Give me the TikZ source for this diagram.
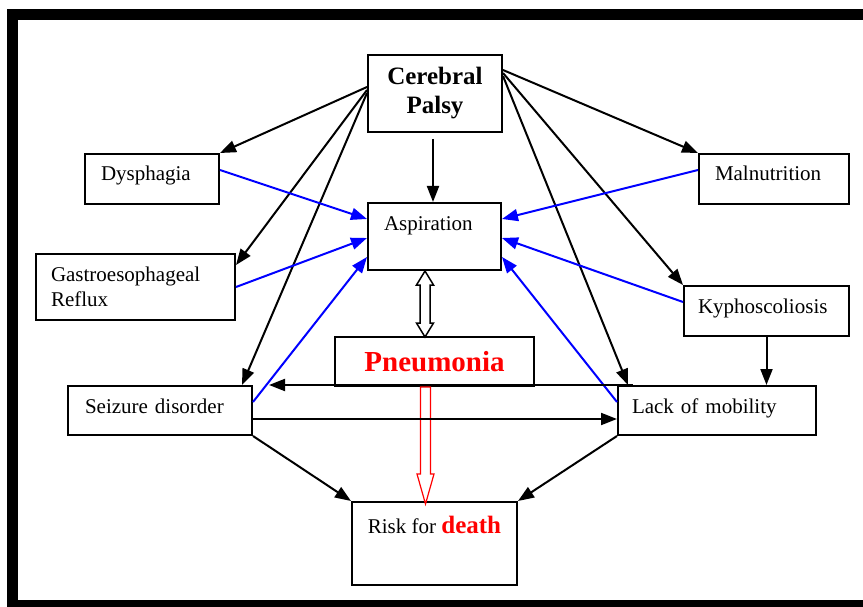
\documentclass[tikz,border=0pt]{standalone}
\usepackage{fontspec}
\setmainfont{Liberation Serif}
\usetikzlibrary{arrows.meta,calc}
\newcommand\txtreg{\fontsize{21}{25}\selectfont}
\newcommand\txtbig{\fontsize{25}{29}\selectfont\bfseries}
\tikzset{
  >=Triangle,
  box/.style={draw, line width=2pt, anchor=north west, inner ysep=0pt, font=\txtreg},
  lbox/.style={box, align=left, text height=27pt},
  arr/.style={-{Triangle[length=16pt,width=12pt]}, line width=2pt},
  barr/.style={arr, blue},
  hollow/.style={draw, line width=1.5pt, fill=white, line join=miter},
  rhollow/.style={draw=red, line width=1.2pt, fill=white, line join=miter}
}
\begin{document}
\begin{tikzpicture}[x=1pt, y=-1pt]
    \useasboundingbox (0,0) rectangle (863,607);
    % frame
    \draw[line width=11pt] (12.5,14.5) rectangle (875,605.5);

    % boxes
    \node[box, minimum width=134pt, minimum height=77pt, align=center, font=\txtbig] (cp) at (367,54) {Cerebral\\Palsy};
    \node[lbox, inner xsep=16pt, text width=102pt, text depth=23pt] (dys) at (84,153) {Dysphagia};
    \node[lbox, inner xsep=16pt, text width=101pt, text depth=40pt] (asp) at (367,202) {Aspiration};
    \node[lbox, inner xsep=15pt, text width=169pt, text depth=39pt] (gerd) at (35,253) {Gastroesophageal\\Reflux};
    \node[lbox, inner xsep=16pt, text width=118pt, text depth=23pt] (mal) at (698,153) {Malnutrition};
    \node[lbox, inner xsep=14pt, text width=137pt, text depth=23pt] (kyph) at (683,285) {Kyphoscoliosis};
    \node[box, minimum width=199pt, minimum height=49pt, text=red, font=\fontsize{29}{33}\selectfont\bfseries] (pneu) at (334,336) {Pneumonia};
    \node[lbox, inner xsep=17pt, text width=150pt, text depth=22pt] (seiz) at (67,385) {Seizure disorder};
    \node[lbox, inner xsep=14pt, text width=170pt, text depth=22pt] (lack) at (617,385) {Lack of mobility};
    \node[box, minimum width=165pt, minimum height=83pt, text depth=38pt] (risk) at (351,501) {Risk for {\txtbig\color{red}death}};

    % hollow arrows
    \path[rhollow] ($(pneu.south west)+(86.5,0)$) -- ++(0,87) -- ++(-3.5,0) -- ++(8.5,30)
        -- ++(8.5,-30) -- ++(-3.5,0) -- ++(0,-87) -- cycle;
    \path[hollow] ($(asp.south west)+(58,0)$) -- ++(8.5,14) -- ++(-3.5,0) -- ++(0,38) -- ++(3.5,0)
        -- ++(-8.5,14) -- ++(-8.5,-14) -- ++(3.5,0) -- ++(0,-38) -- ++(-3.5,0) -- cycle;

    % from Cerebral Palsy
    \draw[arr] ($(cp.north west)+(0,33)$) -- (dys.north east);
    \draw[arr] ($(cp.north west)+(0,36)$) -- ($(gerd.north east)+(0,12)$);
    \draw[arr] ($(cp.north west)+(0,39)$) -- ($(seiz.north east)+(-11,0)$);
    \draw[arr, shorten <=6pt] (cp.south -| 433,0) -- (asp.north -| 433,0);
    \draw[arr] ($(cp.north east)+(0,16)$) -- (mal.north west);
    \draw[arr] ($(cp.north east)+(0,19)$) -- (kyph.north west);
    \draw[arr] ($(cp.north east)+(0,22)$) -- ($(lack.north west)+(11,0)$);

    % into Aspiration
    \draw[barr] ($(dys.north east)+(0,17)$) -- ($(asp.north west)+(0,17)$);
    \draw[barr] ($(gerd.north east)+(0,34)$) -- ($(asp.north west)+(0,36)$);
    \draw[barr] ($(seiz.north east)+(0,17)$) -- ($(asp.north west)+(0,55)$);
    \draw[barr] ($(mal.north west)+(0,17)$) -- ($(asp.north east)+(0,17)$);
    \draw[barr] ($(kyph.north west)+(0,17)$) -- ($(asp.north east)+(0,36)$);
    \draw[barr] ($(lack.north west)+(0,17)$) -- ($(asp.north east)+(0,55)$);

    % lower part
    \draw[arr] ($(lack.north west)+(16,0)$) -- ($(seiz.north east)+(16,0)$);
    \draw[arr] ($(seiz.north east)+(0,34)$) -- ($(lack.north west)+(0,34)$);
    \draw[arr] (kyph.south) -- (kyph.south |- lack.north);
    \draw[arr] (seiz.south east) -- (risk.north west);
    \draw[arr] (lack.south west) -- (risk.north east);
\end{tikzpicture}
\end{document}
